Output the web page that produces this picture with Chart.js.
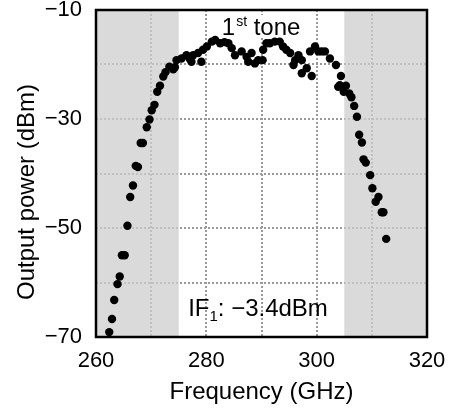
<!DOCTYPE html>
<html lang="en">

<head>
    <meta charset="UTF-8">
    <title>Output power vs frequency</title>
    <script src="https://cdn.jsdelivr.net/npm/chart.js"></script>
    <style>
        body { margin: 0; background: #fff; }
        #wrap { width: 451px; height: 413px; }
    </style>
</head>

<body>
    <div id="wrap"><canvas id="grafico" width="451" height="413"></canvas></div>

    <script>
        // datos
        const frequency = [
            262.4, 262.9, 263.3, 263.9, 264.3, 264.7, 265.2, 265.7, 266.2, 266.7,
            267.2, 267.6, 268.1, 268.5, 269.2, 269.7, 270.1, 270.6, 271.1, 271.6,
            272.2, 272.6, 273.3, 274.0, 274.3, 274.6, 275.5, 276.4, 277.0, 277.3,
            277.6, 278.5, 279.1, 279.4, 280.1, 281.0, 281.6, 282.5, 283.3, 284.0,
            284.6, 285.2, 286.4, 287.3, 287.6, 288.2, 288.8, 289.4, 290.2, 290.3,
            290.9, 291.5, 292.4, 293.3, 293.9, 294.5, 295.2, 295.8, 296.1, 296.7,
            297.3, 297.3, 298.2, 298.8, 299.1, 299.7, 300.3, 300.9, 301.5, 302.4,
            303.5, 303.9, 304.2, 304.4, 304.9, 305.3, 305.9, 306.3, 306.8, 307.3,
            307.7, 308.2, 308.5, 308.9, 309.7, 310.1, 310.7, 311.2, 311.8, 312.1,
            312.6
        ];
        const outputPower = [
            -69.1, -66.7, -63.2, -60.3, -58.9, -55.0, -55.0, -49.6, -44.3, -42.2,
            -38.6, -38.8, -34.4, -34.4, -31.5, -30.1, -28.4, -27.4, -25.0, -23.9,
            -22.2, -21.4, -20.4, -20.9, -20.5, -19.2, -18.9, -18.3, -19.0, -19.5,
            -18.3, -17.9, -19.5, -17.3, -16.7, -15.8, -15.5, -16.1, -15.9, -16.1,
            -17.0, -18.3, -17.6, -18.6, -19.5, -17.9, -19.8, -19.2, -19.2, -17.3,
            -16.1, -16.1, -15.8, -15.8, -16.7, -17.3, -17.9, -20.1, -19.2, -18.3,
            -19.2, -21.6, -20.7, -17.6, -22.1, -16.7, -17.6, -17.6, -17.6, -18.9,
            -20.1, -24.1, -23.8, -22.1, -25.0, -23.9, -25.3, -26.0, -27.6, -29.6,
            -32.9, -34.3, -37.4, -38.0, -40.3, -42.7, -45.2, -44.3, -47.1, -47.1,
            -52.0
        ];
        const xTickLabels = [260, 280, 300, 320];
        const yTickLabels = [-10, -30, -50, -70];
        const shadedBands = [[260, 275], [305, 320]];

        const FONT = "'Liberation Sans', Arial, sans-serif";
        const minus = (v) => (v < 0 ? "\u2212" + Math.abs(v) : String(v));

        // bandas grises (dibujadas encima de la rejilla, semitransparentes)
        const shadePlugin = {
            id: "shade",
            beforeDatasetsDraw(chart) {
                const { ctx, chartArea, scales } = chart;
                ctx.save();
                ctx.fillStyle = "rgba(205,205,205,0.75)";
                shadedBands.forEach(([a, b]) => {
                    const x1 = scales.x.getPixelForValue(a);
                    const x2 = scales.x.getPixelForValue(b);
                    ctx.fillRect(x1, chartArea.top, x2 - x1, chartArea.bottom - chartArea.top);
                });

                // etiqueta "1st tone" con fondo blanco
                const tx = scales.x.getPixelForValue(282.8);
                const ty = scales.y.getPixelForValue(-14.6);
                ctx.font = "24px " + FONT;
                const w1 = ctx.measureText("1").width;
                ctx.font = "14px " + FONT;
                const w2 = ctx.measureText("st").width;
                ctx.font = "24px " + FONT;
                const w3 = ctx.measureText(" tone").width;
                ctx.fillStyle = "#fff";
                ctx.fillRect(tx - 3, ty - 20, w1 + w2 + w3 + 6, 22);
                ctx.fillStyle = "#000";
                ctx.textBaseline = "alphabetic";
                ctx.fillText("1", tx, ty);
                ctx.font = "14px " + FONT;
                ctx.fillText("st", tx + w1 + 1, ty - 9);
                ctx.font = "24px " + FONT;
                ctx.fillText(" tone", tx + w1 + w2 + 1, ty);
                ctx.restore();
            },
            afterDatasetsDraw(chart) {
                const { ctx, chartArea, scales } = chart;
                ctx.save();
                // marco negro
                ctx.strokeStyle = "#000";
                ctx.lineWidth = 2.5;
                ctx.strokeRect(chartArea.left, chartArea.top,
                    chartArea.right - chartArea.left, chartArea.bottom - chartArea.top);

                // texto IF1
                const ix = scales.x.getPixelForValue(276.7);
                const iy = scales.y.getPixelForValue(-66.1);
                ctx.fillStyle = "#000";
                ctx.textBaseline = "alphabetic";
                ctx.font = "24px " + FONT;
                ctx.fillText("IF", ix, iy);
                let w = ctx.measureText("IF").width;
                ctx.font = "15px " + FONT;
                ctx.fillText("1", ix + w, iy + 5);
                w += ctx.measureText("1").width;
                ctx.font = "24px " + FONT;
                ctx.fillText(": \u22123.4dBm", ix + w, iy);

                // titulo del eje y
                ctx.translate(27, 192);
                ctx.rotate(-Math.PI / 2);
                ctx.textAlign = "center";
                ctx.textBaseline = "middle";
                ctx.fillText("Output power (dBm)", 0, 0);
                ctx.restore();
            }
        };

        document.addEventListener("DOMContentLoaded", () => {
            const ctx = document.getElementById("grafico").getContext("2d");

            new Chart(ctx, {
                type: "scatter",
                data: {
                    datasets: [{
                        label: "1st tone",
                        data: frequency.map((f, i) => ({ x: f, y: outputPower[i] })),
                        backgroundColor: "#000",
                        borderWidth: 0,
                        pointRadius: 4.2,
                        pointHoverRadius: 4.2,
                    }],
                },
                options: {
                    responsive: false,
                    animation: false,
                    layout: { padding: { top: 10, right: 24, left: 0, bottom: 0 } },
                    plugins: {
                        legend: { display: false },
                        tooltip: { enabled: false },
                    },
                    scales: {
                        x: {
                            type: "linear",
                            min: 260,
                            max: 320,
                            ticks: {
                                stepSize: 10,
                                padding: 11,
                                color: "#000",
                                font: { family: FONT, size: 22 },
                                callback: (v) => (xTickLabels.includes(v) ? String(v) : ""),
                            },
                            grid: { color: "#999", lineWidth: 2, drawTicks: false },
                            border: { display: false, dash: [2, 2] },
                            title: {
                                display: true,
                                text: "Frequency (GHz)",
                                color: "#000",
                                font: { family: FONT, size: 24 },
                                padding: { top: 0, bottom: 6 },
                            },
                            afterFit: (scale) => {
                                scale.height = 76;
                                scale.paddingLeft = 0;
                                scale.paddingRight = 0;
                            },
                        },
                        y: {
                            min: -70,
                            max: -10,
                            ticks: {
                                stepSize: 10,
                                padding: 14,
                                color: "#000",
                                font: { family: FONT, size: 22 },
                                callback: (v) => (yTickLabels.includes(v) ? minus(v) : ""),
                            },
                            grid: { color: "#999", lineWidth: 2, drawTicks: false },
                            border: { display: false, dash: [2, 2] },
                            afterFit: (scale) => {
                                scale.width = 96;
                                scale.paddingTop = 0;
                                scale.paddingBottom = 0;
                            },
                        },
                    },
                },
                plugins: [shadePlugin],
            });
        });
    </script>
</body>

</html>
